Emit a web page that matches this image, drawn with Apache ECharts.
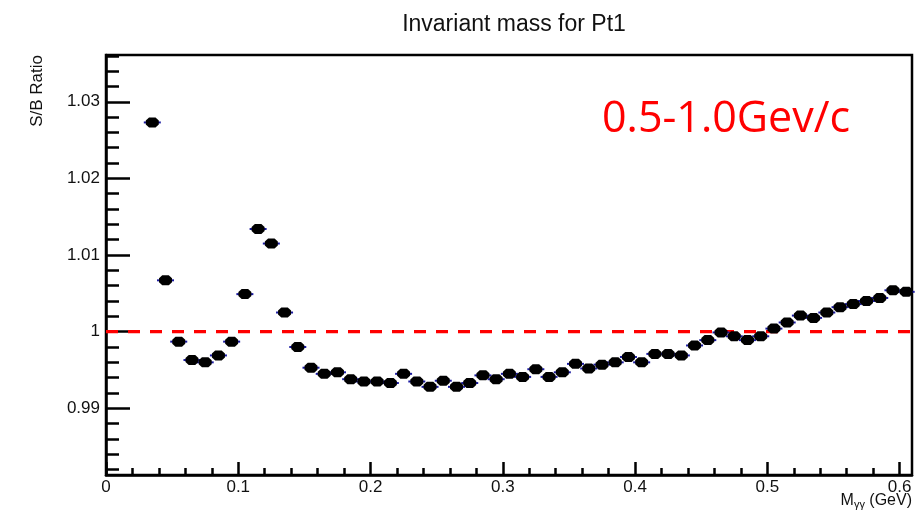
<!DOCTYPE html>
<html>
<head>
<meta charset="utf-8">
<script src="https://cdn.jsdelivr.net/npm/echarts@6/dist/echarts.min.js"></script>
<style>html,body{margin:0;padding:0;background:#fff}#c{width:922px;height:526px}</style>
</head>
<body>
<div id="c"></div>
<script>
// Bin centers (GeV)
var massBins = [0.035,0.045,0.055,0.065,0.075,0.085,0.095,0.105,0.115,0.125,
  0.135,0.145,0.155,0.165,0.175,0.185,0.195,0.205,0.215,0.225,
  0.235,0.245,0.255,0.265,0.275,0.285,0.295,0.305,0.315,0.325,
  0.335,0.345,0.355,0.365,0.375,0.385,0.395,0.405,0.415,0.425,
  0.435,0.445,0.455,0.465,0.475,0.485,0.495,0.505,0.515,0.525,
  0.535,0.545,0.555,0.565,0.575,0.585,0.595,0.605];
// S/B ratio values
var sbRatio = [1.0273,1.0067,0.9987,0.9963,0.9960,0.9969,0.9987,1.0049,1.0134,1.0115,
  1.0025,0.9980,0.9953,0.9945,0.9947,0.9938,0.9935,0.9935,0.9933,0.9945,
  0.9935,0.9928,0.9936,0.9928,0.9933,0.9943,0.9938,0.9945,0.9941,0.9951,
  0.9941,0.9947,0.9958,0.9952,0.9957,0.9960,0.9967,0.9960,0.9971,0.9971,
  0.9969,0.9982,0.9989,0.9999,0.9994,0.9989,0.9994,1.0004,1.0012,1.0021,
  1.0018,1.0025,1.0032,1.0036,1.0040,1.0044,1.0054,1.0052];
var xMajorTicks = [0, 0.1, 0.2, 0.3, 0.4, 0.5, 0.6];
var yMajorTicks = [0.99, 1, 1.01, 1.02, 1.03];
var referenceLevel = 1;
var titleText = 'Invariant mass for Pt1';
var ptRangeText = '0.5-1.0Gev/c';
var yName = 'S/B Ratio';

var X_MIN = 0, X_MAX = 0.6094, Y_MIN = 0.98130, Y_MAX = 1.0361;
var xMinorTicks = [], yMinorTicks = [];
for (var i = 1; i <= 30; i++) { var v = +(i * 0.02).toFixed(3); if (v <= X_MAX) xMinorTicks.push(v); }
for (var j = 491; j <= 518; j++) { var w = +(j * 0.002).toFixed(3); if (w >= Y_MIN && w <= Y_MAX) yMinorTicks.push(w); }

var pts = massBins.map(function (m, k) { return [m, sbRatio[k]]; });
var FONT = '"Liberation Sans", Arial, sans-serif';
var octagon = 'path://M3,0 L9,0 L12,3 L12,7 L9,10 L3,10 L0,7 L0,3 Z';

var chart = echarts.init(document.getElementById('c'));
chart.setOption({
  animation: false,
  backgroundColor: '#fff',
  title: {
    text: titleText, left: 509, top: 8, textAlign: 'center',
    textStyle: { fontFamily: FONT, fontSize: 23, fontWeight: 'normal', color: '#111' }
  },
  grid: { left: 106, top: 55, width: 806, height: 420, show: true, borderColor: '#000', borderWidth: 2.5, backgroundColor: 'transparent' },
  xAxis: [{
    type: 'value', min: X_MIN, max: X_MAX, z: 0,
    axisLine: { show: true, lineStyle: { color: '#000', width: 2.5 } },
    splitLine: { show: false },
    axisTick: { show: true, inside: true, length: 13, customValues: xMajorTicks, lineStyle: { color: '#000', width: 2.5 } },
    axisLabel: { show: true, customValues: xMajorTicks, margin: 4, fontFamily: FONT, fontSize: 17, color: '#111',
      formatter: function (v) { return String(+v.toFixed(2)); } }
  }, {
    type: 'value', min: X_MIN, max: X_MAX, position: 'bottom', z: 0,
    axisLine: { show: false }, splitLine: { show: false }, axisLabel: { show: false },
    axisTick: { show: true, inside: true, length: 7, customValues: xMinorTicks, lineStyle: { color: '#000', width: 2.5 } }
  }],
  yAxis: [{
    type: 'value', min: Y_MIN, max: Y_MAX, z: 0,
    axisLine: { show: true, lineStyle: { color: '#000', width: 2.5 } },
    splitLine: { show: false },
    axisTick: { show: true, inside: true, length: 24, customValues: yMajorTicks, lineStyle: { color: '#000', width: 2.5 } },
    axisLabel: { show: true, customValues: yMajorTicks, margin: 6, fontFamily: FONT, fontSize: 17, color: '#111',
      formatter: function (v) { return String(+v.toFixed(3)); } }
  }, {
    type: 'value', min: Y_MIN, max: Y_MAX, position: 'left', z: 0,
    axisLine: { show: false }, splitLine: { show: false }, axisLabel: { show: false },
    axisTick: { show: true, inside: true, length: 13, customValues: yMinorTicks, lineStyle: { color: '#000', width: 2.5 } }
  }],
  graphic: [
    { type: 'text', left: 602, top: 98, z: 10,
      style: { text: ptRangeText, fill: '#ff0000', font: '43px "Open Sans", "Noto Sans", sans-serif' } },
    { type: 'text', x: 37, y: 55, rotation: Math.PI / 2, z: 10,
      style: { text: yName, fill: '#111', font: '17px ' + FONT, align: 'right', verticalAlign: 'middle' } },
    { type: 'text', right: 10, top: 493, z: 10,
      style: { text: 'M{s|γγ} (GeV)', fill: '#111', font: '16px ' + FONT,
        rich: { s: { fontSize: 11, fontFamily: FONT, fill: '#111', padding: [8, 0, 0, 0] } } } }
  ],
  series: [{
    type: 'line', data: [[X_MIN, referenceLevel], [X_MAX, referenceLevel]], z: 5, silent: true,
    symbol: 'none', lineStyle: { color: '#ff0000', width: 3.2, type: [12, 10] }
  }, {
    type: 'scatter', data: pts, z: 6, silent: true,
    symbol: 'rect', symbolSize: [17, 2],
    itemStyle: { color: '#1a1aa0', opacity: 1 }
  }, {
    type: 'scatter', data: pts, z: 7, silent: true,
    symbol: octagon, symbolSize: [13, 10],
    itemStyle: { color: '#000', opacity: 1 }
  }]
});
</script>
</body>
</html>
